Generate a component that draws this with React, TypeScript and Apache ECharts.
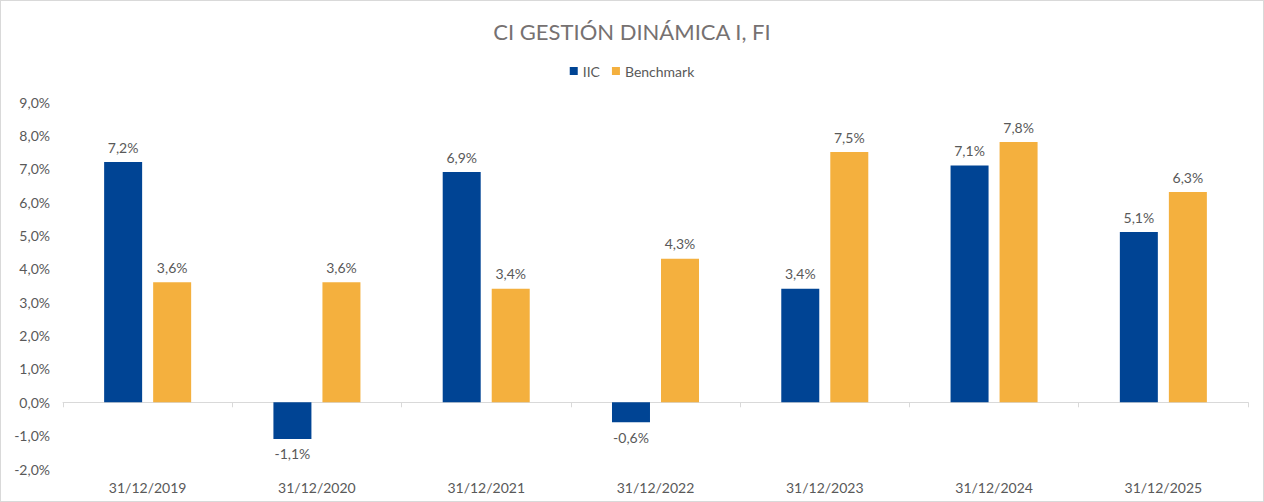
import React, { useEffect, useRef } from "react";
import * as echarts from "echarts";

const categories = ["31/12/2019", "31/12/2020", "31/12/2021", "31/12/2022", "31/12/2023", "31/12/2024", "31/12/2025"];
const iicValues = [7.2, -1.1, 6.9, -0.6, 3.4, 7.1, 5.1];
const benchmarkValues = [3.6, 3.6, 3.4, 4.3, 7.5, 7.8, 6.3];
const seriesNames = ["IIC", "Benchmark"];
const titleText = "CI GESTIÓN DINÁMICA I, FI";

const fmt = (v: number) => v.toFixed(1).replace(".", ",") + "%";

export default function App() {
  const ref = useRef<HTMLDivElement>(null);
  useEffect(() => {
    if (!ref.current) return;
    const chart = echarts.init(ref.current, undefined, { renderer: "svg" });
    const font = "Lato, 'Open Sans', sans-serif";
    const labelStyle = (pos: string) => ({
      show: true,
      position: pos,
      distance: 8,
      color: "#595959",
      fontSize: 14,
      fontFamily: font,
      formatter: (p: any) => fmt(p.value),
    });
    chart.setOption({
      animation: false,
      backgroundColor: "#ffffff",
      title: {
        text: titleText,
        left: "center",
        top: 14,
        textStyle: { color: "#767171", fontSize: 22, fontWeight: "normal", fontFamily: font },
      },
      legend: {
        top: 58,
        left: "center",
        itemWidth: 8,
        itemHeight: 8,
        itemGap: 12,
        icon: "rect",
        textStyle: { color: "#595959", fontSize: 14, fontFamily: font },
        data: seriesNames,
      },
      grid: { left: 62, right: 15, top: 101, bottom: 32, containLabel: false },
      xAxis: {
        type: "category",
        data: categories,
        axisLine: { onZero: true, lineStyle: { color: "#d9d9d9" } },
        axisTick: { show: true, length: 5, lineStyle: { color: "#d9d9d9" } },
        axisLabel: {
          color: "#595959",
          fontSize: 14,
          fontFamily: font,
          margin: 11,
        },
        position: "bottom",
      },
      yAxis: {
        type: "value",
        min: -2,
        max: 9,
        interval: 1,
        splitLine: { show: false },
        axisLine: { show: false },
        axisTick: { show: false },
        axisLabel: {
          color: "#595959",
          fontSize: 14,
          fontFamily: font,
          margin: 13,
          formatter: (v: number) => fmt(v),
        },
      },
      series: [
        {
          name: seriesNames[0],
          type: "bar",
          data: iicValues.map((v) => ({ value: v, label: labelStyle(v < 0 ? "bottom" : "top") })),
          itemStyle: { color: "#004494" },
          barWidth: 38,
          barGap: "29%",
        },
        {
          name: seriesNames[1],
          type: "bar",
          data: benchmarkValues.map((v) => ({ value: v, label: labelStyle(v < 0 ? "bottom" : "top") })),
          itemStyle: { color: "#f4b03e" },
          barWidth: 38,
          barGap: "29%",
        },
      ],
    });
    return () => chart.dispose();
  }, []);
  return (
    <div
      style={{
        position: "fixed",
        left: 0,
        top: 0,
        width: 1264,
        height: 502,
        boxSizing: "border-box",
        border: "1px solid #d9d9d9",
        background: "#fff",
      }}
    >
      <div ref={ref} style={{ width: 1262, height: 500 }} />
    </div>
  );
}
